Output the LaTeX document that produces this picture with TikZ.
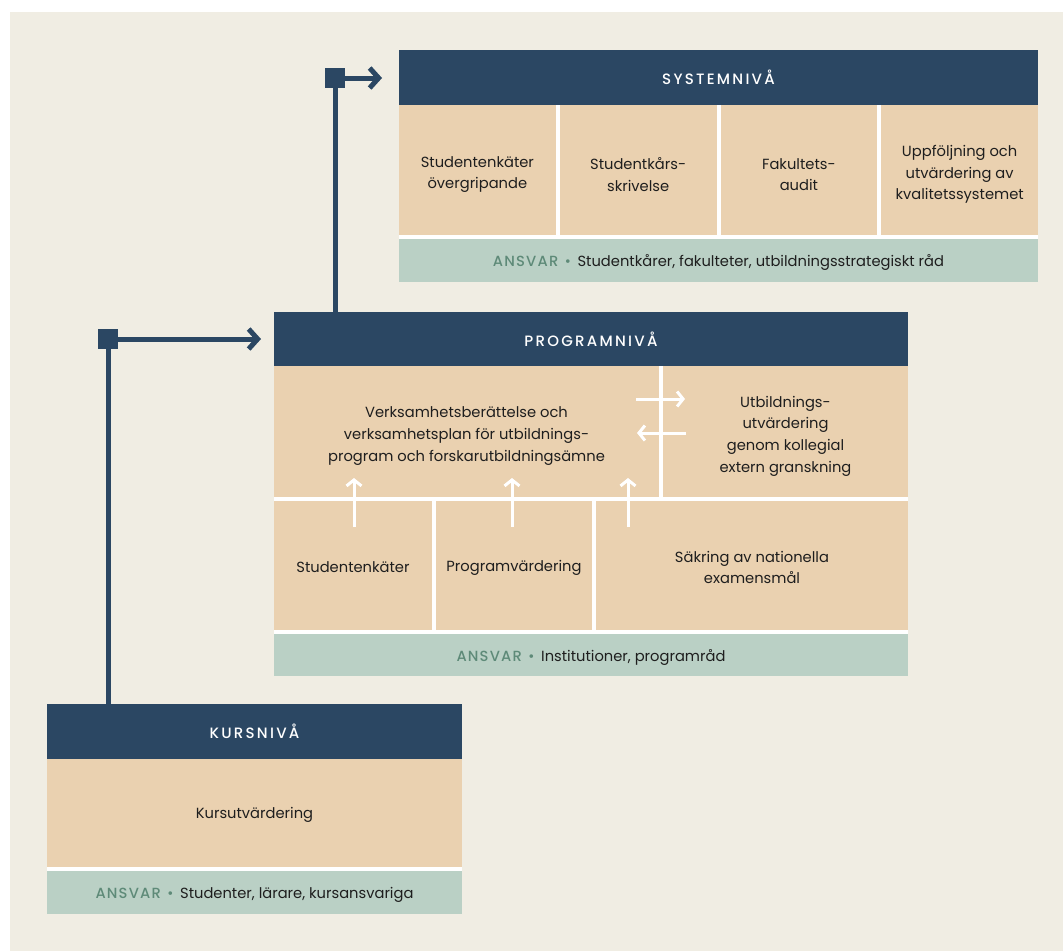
\documentclass[tikz,border=0pt]{standalone}
\usepackage{fontspec}
\setmainfont{Poppins}
\newfontfamily\hdrfam{Poppins Medium}
\usetikzlibrary{arrows.meta}
\definecolor{bgc}{HTML}{F0EDE3}
\definecolor{navy}{HTML}{2B4763}
\definecolor{sand}{HTML}{EAD1B0}
\definecolor{sage}{HTML}{BAD0C5}
\definecolor{ansv}{HTML}{5E8A78}
\definecolor{ink}{HTML}{1E1E1E}
\newcommand\hdrfont{\hdrfam\fontsize{15}{16}\selectfont\addfontfeature{LetterSpace=15}}
\newcommand\cellfont{\fontsize{14.7}{21.6}\selectfont}
\newcommand\ansvarlabel{{\hdrfam\color{ansv}\addfontfeature{LetterSpace=8}ANSVAR}\hspace{0.45em}{\color{ansv}•}\hspace{0.45em}}
\begin{document}
\begin{tikzpicture}[x=1pt,y=-1pt,
  base/.style={inner sep=0pt, outer sep=0pt, anchor=north west},
  hdr/.style={base, fill=navy, text=white, font=\hdrfont},
  txt/.style={text=ink, align=center, font=\cellfont, inner sep=0pt, yshift=-2pt},
  txtm/.style={txt, yshift=-2.5pt},
  cell/.style={base, fill=sand, label={[txt]center:{#1}}},
  mcell/.style={base, fill=sand, label={[txtm]center:{#1}}},
  resp/.style={base, fill=sage, label={[txt]center:{#1}}},
  gapbox/.style={base, fill=white},
  link/.style={draw=navy, line width=5pt, -{Straight Barb[length=9pt,width=20pt]}},
  trunk/.style={draw=navy, line width=5pt},
  hub/.style={fill=navy, minimum size=20pt, inner sep=0pt, outer sep=0pt},
  flow/.style={draw=white, line width=3pt, -{Straight Barb[length=6pt,width=15pt]}}]
% background
\fill[white] (0,0) rectangle (1063,951);
\fill[bgc] (10,12) rectangle (1063,951);
\useasboundingbox (0,0) rectangle (1063,951);

% ---------- SYSTEMNIVÅ ----------
\node[gapbox, minimum width=639pt, minimum height=177pt] (sysbg) at (399,105) {};
\node[hdr, minimum width=639pt, minimum height=55pt] (syshdr) at (399,50) {SYSTEMNIVÅ};
\node[mcell={Studentenkäter\\övergripande}, minimum width=156.75pt, minimum height=130pt] (s1) at (399,105) {};
\node[mcell={Studentkårs-\\skrivelse}, minimum width=156.75pt, minimum height=130pt] (s2) at (559.75,105) {};
\node[mcell={Fakultets-\\audit}, minimum width=156.75pt, minimum height=130pt] (s3) at (720.5,105) {};
\node[mcell={Uppföljning och\\utvärdering av\\kvalitetssystemet}, minimum width=156.75pt, minimum height=130pt] (s4) at (881.25,105) {};
\node[resp={\ansvarlabel Studentkårer, fakulteter, utbildningsstrategiskt råd}, minimum width=639pt, minimum height=43pt] (sysresp) at (399,239) {};

% ---------- PROGRAMNIVÅ ----------
\node[gapbox, minimum width=634pt, minimum height=310pt] (progbg) at (274,366) {};
\node[hdr, minimum width=634pt, minimum height=54pt] (proghdr) at (274,312) {PROGRAMNIVÅ};
\node[mcell={Verksamhetsberättelse och\\verksamhetsplan för utbildnings-\\program och forskarutbildningsämne}, minimum width=385pt, minimum height=131pt] (pv) at (274,366) {};
\node[mcell={Utbildnings-\\utvärdering\\genom kollegial\\extern granskning}, minimum width=245pt, minimum height=131pt] (pu) at (663,366) {};
\node[cell={Studentenkäter}, minimum width=158pt, minimum height=129pt] (p1) at (274,501) {};
\node[cell={Programvärdering}, minimum width=156pt, minimum height=129pt] (p2) at (436,501) {};
\node[cell={Säkring av nationella\\examensmål}, minimum width=312pt, minimum height=129pt] (p3) at (596,501) {};
\node[resp={\ansvarlabel Institutioner, programråd}, minimum width=634pt, minimum height=42pt] (progresp) at (274,634) {};

% ---------- KURSNIVÅ ----------
\node[gapbox, minimum width=415pt, minimum height=155pt] (kursbg) at (47,759) {};
\node[hdr, minimum width=415pt, minimum height=55pt] (kurshdr) at (47,704) {KURSNIVÅ};
\node[cell={Kursutvärdering}, minimum width=415pt, minimum height=108pt] (k1) at (47,759) {};
\node[resp={\ansvarlabel Studenter, lärare, kursansvariga}, minimum width=415pt, minimum height=43pt] (kursresp) at (47,871) {};

% ---------- connectors between levels ----------
\node[hub] (hubK) at (108,339) {};
\node[hub] (hubS) at (335,78) {};
\coordinate (kTip) at (261,339);
\coordinate (sTip) at (382,78);
\draw[trunk] (hubK |- kurshdr.north) -- (hubK.south);
\draw[link] (hubK.east) -- (kTip);
\draw[trunk] (hubS |- proghdr.north) -- (hubS.south);
\draw[link] (hubS.east) -- (sTip);

% ---------- white flow arrows ----------
\coordinate (u1a) at (354,527); \coordinate (u1b) at (354,478);
\coordinate (u2a) at (512,527); \coordinate (u2b) at (512,478);
\coordinate (u3a) at (628,527); \coordinate (u3b) at (628,478);
\coordinate (ra) at (636,399); \coordinate (rb) at (685,399);
\coordinate (la) at (686,433); \coordinate (lb) at (637,433);
\draw[flow] (u1a) -- (u1b);
\draw[flow] (u2a) -- (u2b);
\draw[flow] (u3a) -- (u3b);
\draw[flow] (ra) -- (rb);
\draw[flow] (la) -- (lb);
\end{tikzpicture}
\end{document}
